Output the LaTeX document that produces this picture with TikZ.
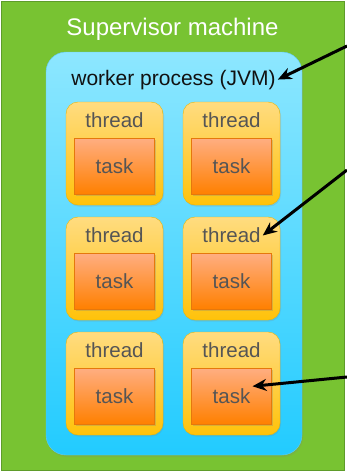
\documentclass[tikz,border=0pt]{standalone}
\usepackage{fontspec}
\setmainfont{Liberation Sans}
\usetikzlibrary{positioning,arrows.meta,shadows}
\definecolor{machinefill}{HTML}{78C332}
\definecolor{machineedge}{HTML}{5E9C2A}
\definecolor{jvmtop}{HTML}{8DE7FF}
\definecolor{jvmbottom}{HTML}{22CBFF}
\definecolor{jvmedge}{HTML}{62C9EE}
\definecolor{threadtop}{HTML}{FFDC80}
\definecolor{threadbottom}{HTML}{FFC20A}
\definecolor{threadedge}{HTML}{F0B400}
\definecolor{tasktop}{HTML}{FFAE82}
\definecolor{taskbottom}{HTML}{FF8000}
\definecolor{taskedge}{HTML}{E5780C}
\definecolor{labelgrey}{HTML}{555555}
\definecolor{workertext}{HTML}{111111}

\tikzset{
  bigtext/.style={font=\fontsize{24}{28}\selectfont},
  midtext/.style={font=\fontsize{21}{25}\selectfont},
  boxtext/.style={font=\fontsize{20.5}{24}\selectfont, text=labelgrey},
  machinebox/.style={draw=machineedge, fill=machinefill, line width=1.5pt,
    minimum width=343pt, minimum height=469pt, inner sep=0pt},
  jvmbox/.style={draw=jvmedge, top color=jvmtop, bottom color=jvmbottom,
    rounded corners=20pt, minimum width=256pt, minimum height=403pt, inner sep=0pt,
    drop shadow={opacity=0.2, shadow xshift=1pt, shadow yshift=-2pt}},
  threadbox/.style={draw=threadedge, top color=threadtop, bottom color=threadbottom,
    rounded corners=12pt, minimum width=97pt, minimum height=103pt, inner sep=0pt,
    drop shadow={opacity=0.2, shadow xshift=1pt, shadow yshift=-1.5pt}},
  taskbox/.style={draw=taskedge, top color=tasktop, bottom color=taskbottom,
    minimum width=80pt, minimum height=56pt, inner sep=0pt,
    drop shadow={opacity=0.3, shadow xshift=1.5pt, shadow yshift=-1.5pt}},
  pointer/.style={-{Stealth[length=14pt,width=12pt]}, line width=3pt}
}

\begin{document}
\begin{tikzpicture}[x=1pt,y=1pt]
  \useasboundingbox (0,0) rectangle (347,-474);

  \node (machine) [machinebox] at (173.1,-236.1) {};
  \node (title) [bigtext, text=white, anchor=base] at (172.5,-35) {Supervisor machine};

  \node (jvm) [jvmbox] at (174,-253.5) {};
  \node (worker) [midtext, text=workertext, anchor=base, inner sep=2pt] at (173.5,-85) {worker process (JVM)};

  \foreach \r in {1,2,3} {
    \foreach \c/\x in {1/114.5, 2/231.5} {
      \pgfmathsetmacro\y{-153.5-115*(\r-1)}
      \node (th-\r-\c) [threadbox] at (\x,\y) {};
      \node (thl-\r-\c) [boxtext, anchor=base, inner sep=2pt] at ([yshift=-26pt]th-\r-\c.north) {thread};
      \node (tk-\r-\c) [taskbox, below=36pt of th-\r-\c.north] {};
      \node (tkl-\r-\c) [boxtext, inner sep=2pt] at (tk-\r-\c) {task};
    }
  }

  \coordinate (src1) at (347,-46);
  \coordinate (src2) at (347,-170);
  \coordinate (src3) at (347,-377);
  \draw[pointer] (src1) -- (worker.east);
  \draw[pointer] (src2) -- (thl-2-2.east);
  \draw[pointer] (src3) -- (tkl-3-2.north east);
\end{tikzpicture}
\end{document}
